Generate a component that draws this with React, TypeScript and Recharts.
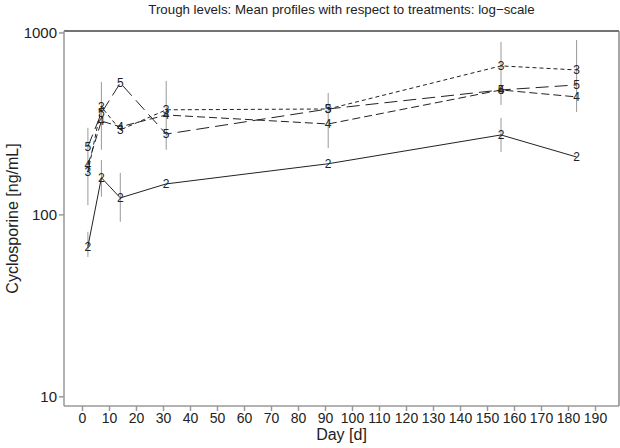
import React from 'react';
import { LineChart, Line, XAxis, YAxis, ErrorBar, ReferenceLine, Label } from 'recharts';

// visit days and mean trough levels per treatment group
const days = [2, 7, 14, 31, 91, 155, 183];
const trt2 = [67, 160, 124, 148, 191, 275, 208];
const trt3 = [172, 392, 293, 378, 382, 659, 626];
const trt4 = [188, 328, 305, 354, 316, 486, 445];
const trt5 = [237, 363, 531, 278, 382, 486, 518];

// error bar ranges (null = none drawn)
const trt2Low = [58.7, 126, 91.6, null, null, 222, null];
const trt2High = [80.7, 200, 170, null, null, 341, null];
const trt3Low = [113, 228, null, 228, 233, 402, 368];
const trt3High = [301, 538, null, 545, 468, 893, 915];

const xTicks = [0, 10, 20, 30, 40, 50, 60, 70, 80, 90, 100, 110, 120, 130, 140, 150, 160, 170, 180, 190];
const yTicks = [10, 100, 1000];

const X_MIN = -6.85;
const X_MAX = 198.7;
const Y_MIN = 8.9;
const Y_MAX = 1025;

const FONT = '"Liberation Sans", Arial, sans-serif';

const build = (vals: number[], low?: (number | null)[], high?: (number | null)[]) =>
  days.map((day, i) => {
    const v = vals[i];
    const lo = low ? low[i] : null;
    const hi = high ? high[i] : null;
    return {
      day,
      value: v,
      err: lo != null && hi != null ? [v - lo, hi - v] : [0, 0],
    };
  });

const series = [
  { name: '2', data: build(trt2, trt2Low, trt2High), dash: undefined, bars: true },
  { name: '3', data: build(trt3, trt3Low, trt3High), dash: '4 3', bars: true },
  { name: '4', data: build(trt4), dash: '8 4', bars: false },
  { name: '5', data: build(trt5), dash: '13 6', bars: false },
];

const makeDot = (ch: string) => (props: any) => (
  <text
    key={`dot-${ch}-${props.index}`}
    x={props.cx}
    y={props.cy}
    textAnchor="middle"
    dominantBaseline="central"
    fontSize={12}
    fontFamily={FONT}
    fill="#222"
    stroke="none"
  >
    {ch}
  </text>
);

export default function App() {
  return (
    <div style={{ position: 'absolute', left: 0, top: 0, width: 620, height: 448, background: '#fff' }}>
      <div
        style={{
          position: 'absolute',
          left: 64,
          width: 555,
          top: 2,
          textAlign: 'center',
          fontFamily: FONT,
          fontSize: 13.3,
          color: '#222',
        }}
      >
        Trough levels: Mean profiles with respect to treatments: log−scale
      </div>
      <LineChart width={620} height={448} margin={{ top: 31, right: 1, bottom: 0, left: 0 }}>
        <XAxis
          type="number"
          dataKey="day"
          domain={[X_MIN, X_MAX]}
          ticks={xTicks}
          allowDataOverflow
          height={42}
          stroke="#999"
          strokeWidth={1.5}
          tickSize={5}
          tick={{ fill: '#222', fontSize: 14, fontFamily: FONT }}
        >
          <Label value="Day [d]" position="insideBottom" offset={8} fill="#222" fontSize={16} fontFamily={FONT} />
        </XAxis>
        <YAxis
          type="number"
          dataKey="value"
          scale="log"
          domain={[Y_MIN, Y_MAX]}
          ticks={yTicks}
          allowDataOverflow
          width={64}
          stroke="#999"
          strokeWidth={1.5}
          tickSize={5}
          tick={{ fill: '#222', fontSize: 15, fontFamily: FONT }}
        >
          <Label
            value="Cyclosporine [ng/mL]"
            angle={-90}
            position="insideLeft"
            offset={12}
            style={{ textAnchor: 'middle' }}
            fill="#222"
            fontSize={16}
            fontFamily={FONT}
          />
        </YAxis>
        <ReferenceLine y={Y_MAX} stroke="#444" strokeWidth={1.5} />
        <ReferenceLine x={X_MAX} stroke="#888" strokeWidth={1.5} />
        {series.map((s) => (
          <Line
            key={s.name}
            data={s.data}
            dataKey="value"
            type="linear"
            stroke="#222"
            strokeWidth={1}
            strokeDasharray={s.dash}
            dot={makeDot(s.name)}
            activeDot={false}
            isAnimationActive={false}
          >
            {s.bars && (
              <ErrorBar dataKey="err" direction="y" width={0} stroke="#999" strokeWidth={1} />
            )}
          </Line>
        ))}
      </LineChart>
    </div>
  );
}
